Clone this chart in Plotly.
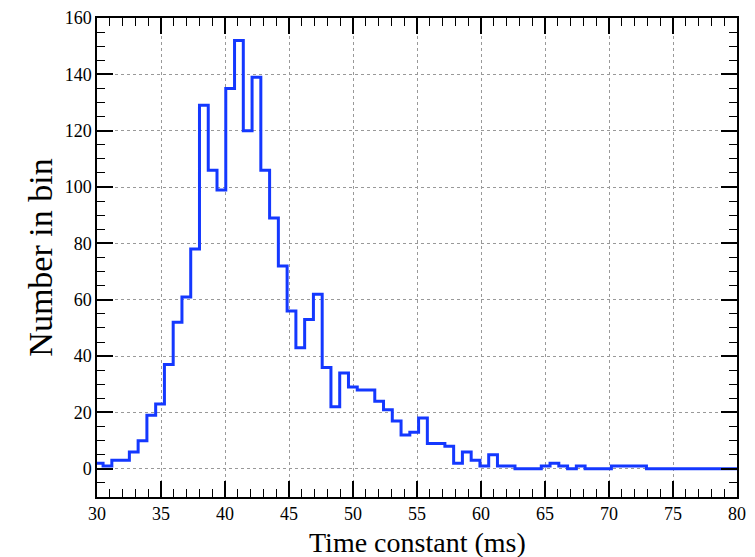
import plotly.graph_objects as go

# Histogram binning (ms)
bin_start = 29.79
bin_width = 0.6847

# Counts per bin, starting at bin_start
counts = [2, 1, 3, 3, 6, 10, 19, 23, 37, 52, 61, 78, 129, 106, 99, 135, 152, 120,
          139, 106, 89, 72, 56, 43, 53, 62, 36, 22, 34, 29, 28, 28, 24, 21, 17, 12,
          13, 18, 9, 9, 8, 2, 6, 3, 1, 5, 1, 1, 0, 0, 0, 1, 2, 1, 0, 1, 0, 0, 0,
          1, 1, 1, 1, 0, 0, 0, 0, 0, 0, 0, 0, 0, 0, 0]

x_ticks = [30, 35, 40, 45, 50, 55, 60, 65, 70, 75, 80]
y_ticks = [0, 20, 40, 60, 80, 100, 120, 140, 160]

edges = [bin_start + i * bin_width for i in range(len(counts) + 1)]
ys = counts + [counts[-1]]

fig = go.Figure()
fig.add_trace(go.Scatter(
    x=edges, y=ys, mode="lines", line=dict(shape="hv", color="#1438ff", width=3),
    showlegend=False, hoverinfo="skip"))

axis_common = dict(
    showline=True, linecolor="black", linewidth=1.5, mirror="ticks",
    ticks="inside", tickcolor="black", tickwidth=1.5, ticklen=16,
    showgrid=True, gridcolor="#999999", gridwidth=1, griddash="3px,3px",
    zeroline=False, automargin=False,
    tickfont=dict(family="Liberation Serif", size=18, color="black"),
)

fig.update_xaxes(
    range=[30, 80], tickmode="array", tickvals=x_ticks,
    minor=dict(dtick=1, ticks="inside", ticklen=8, tickcolor="black", tickwidth=1.2, showgrid=False),
    **axis_common)
fig.update_yaxes(
    range=[-10, 160], tickmode="array", tickvals=y_ticks,
    minor=dict(dtick=5, tick0=0, ticks="inside", ticklen=8, tickcolor="black", tickwidth=1.2, showgrid=False),
    title=dict(text="Number in bin", font=dict(family="Liberation Serif", size=34, color="black"), standoff=2),
    **axis_common)

fig.add_annotation(
    text="Time constant (ms)", xref="paper", yref="paper", x=0.5, y=-0.094,
    xanchor="center", yanchor="middle", showarrow=False,
    font=dict(family="Liberation Serif", size=28, color="black"))

fig.update_layout(
    width=755, height=557,
    margin=dict(l=97, r=18, t=18, b=60),
    plot_bgcolor="white", paper_bgcolor="white",
)

fig.write_html("out.html")
